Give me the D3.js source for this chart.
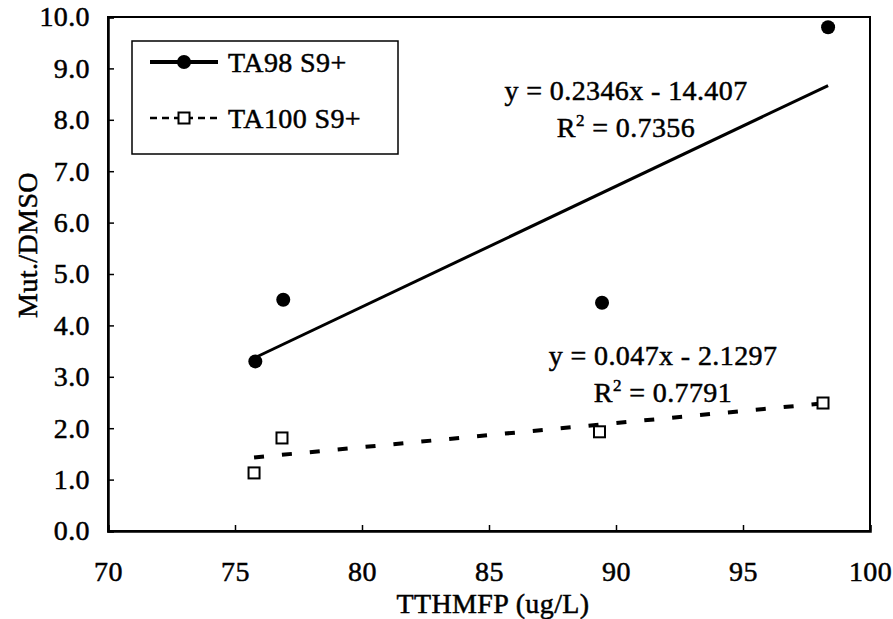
<!DOCTYPE html>
<html>
<head>
<meta charset="utf-8">
<script src="https://cdn.jsdelivr.net/npm/d3@7"></script>
<style>
  html, body { margin: 0; padding: 0; background: #fff; }
  svg text { font-family: "Liberation Serif", "Times New Roman", serif; fill: #000; stroke: #000; stroke-width: 0.5px; }
</style>
</head>
<body>
<svg id="chart" width="893" height="619"></svg>
<script>
// ---- data ----
const ta98X = [75.8, 76.9, 89.45, 98.35];
const ta98Y = [3.3, 4.5, 4.44, 9.8];
const ta100X = [75.75, 76.85, 89.35, 98.15];
const ta100Y = [1.13, 1.81, 1.93, 2.49];
const seriesNames = ["TA98 S9+", "TA100 S9+"];
const trendSlopes = [0.2346, 0.047];
const trendIntercepts = [-14.407, -2.1297];
const trendEquations = ["y = 0.2346x - 14.407", "y = 0.047x - 2.1297"];
const trendR2 = ["0.7356", "0.7791"];
const xTicks = [70, 75, 80, 85, 90, 95, 100];
const yTicks = [0, 1, 2, 3, 4, 5, 6, 7, 8, 9, 10];
const xTitle = "TTHMFP (ug/L)";
const yTitle = "Mut./DMSO";

// ---- layout ----
const svg = d3.select("#chart");
const L = 108, R = 870, T = 17, B = 531;
const x = d3.scaleLinear().domain([70, 100]).range([L, R]);
const y = d3.scaleLinear().domain([0, 10]).range([B, T]);
const FS = 28;
const LS = "0.4px";

// frame
svg.append("rect").attr("x", L).attr("y", T).attr("width", R - L).attr("height", B - T)
  .attr("fill", "none").attr("stroke", "#000").attr("stroke-width", 2);

// axes (inward ticks)
const xAxis = svg.append("g").attr("transform", `translate(0,${B})`)
  .call(d3.axisBottom(x).tickValues(xTicks).tickSize(-6).tickPadding(30).tickFormat(d3.format("d")));
const yAxis = svg.append("g").attr("transform", `translate(${L},0)`)
  .call(d3.axisLeft(y).tickValues(yTicks).tickSize(-6).tickPadding(18).tickFormat(d3.format(".1f")));
[xAxis, yAxis].forEach(g => {
  g.select(".domain").attr("stroke", "#000").attr("stroke-width", 2.5);
  g.selectAll(".tick line").attr("stroke", "#000").attr("stroke-width", 1.5);
  g.selectAll(".tick text").style("font-size", FS + "px").style("letter-spacing", LS);
});

// axis titles
svg.append("text").attr("x", 493).attr("y", 613).attr("text-anchor", "middle")
  .style("font-size", FS + "px").style("letter-spacing", LS).text(xTitle);
svg.append("text").attr("transform", "translate(37,245) rotate(-90)").attr("text-anchor", "middle")
  .style("font-size", FS + "px").style("letter-spacing", LS).text(yTitle);

// trend lines
const xs = [ta98X, ta100X];
const dashes = [null, "10,18"];
const widths = [3, 4];
xs.forEach((xv, i) => {
  const x0 = d3.min(xv), x1 = d3.max(xv);
  const f = v => trendSlopes[i] * v + trendIntercepts[i];
  svg.append("line")
    .attr("x1", x(x0)).attr("y1", y(f(x0))).attr("x2", x(x1)).attr("y2", y(f(x1)))
    .attr("stroke", "#000").attr("stroke-width", widths[i])
    .attr("stroke-dasharray", dashes[i]);
});

// markers
svg.append("g").selectAll("circle").data(d3.zip(ta98X, ta98Y)).join("circle")
  .attr("cx", d => x(d[0])).attr("cy", d => y(d[1])).attr("r", 7).attr("fill", "#000");
svg.append("g").selectAll("rect").data(d3.zip(ta100X, ta100Y)).join("rect")
  .attr("x", d => x(d[0]) - 5.5).attr("y", d => y(d[1]) - 5.5)
  .attr("width", 11).attr("height", 11).attr("fill", "#fff").attr("stroke", "#000").attr("stroke-width", 2);

// equations
const eqPos = [[626, 100, 137], [663, 365, 402]];
eqPos.forEach((p, i) => {
  svg.append("text").attr("x", p[0]).attr("y", p[1]).attr("text-anchor", "middle")
    .style("font-size", FS + "px").style("letter-spacing", LS).text(trendEquations[i]);
  const t = svg.append("text").attr("x", p[0]).attr("y", p[2]).attr("text-anchor", "middle")
    .style("font-size", FS + "px").style("letter-spacing", LS);
  t.append("tspan").text("R");
  t.append("tspan").attr("dy", -11).style("font-size", "17px").text("2");
  t.append("tspan").attr("dy", 11).text(" = " + trendR2[i]);
});

// legend
const lg = svg.append("g");
lg.append("rect").attr("x", 132).attr("y", 41).attr("width", 266).attr("height", 113)
  .attr("fill", "#fff").attr("stroke", "#000").attr("stroke-width", 1.5);
const ly = [62, 118];
seriesNames.forEach((name, i) => {
  lg.append("line").attr("x1", 150).attr("x2", 218).attr("y1", ly[i]).attr("y2", ly[i])
    .attr("stroke", "#000").attr("stroke-width", i === 0 ? 4 : 2.5)
    .attr("stroke-dasharray", i === 0 ? null : "7,5");
  if (i === 0) {
    lg.append("circle").attr("cx", 184).attr("cy", ly[i]).attr("r", 7).attr("fill", "#000");
  } else {
    lg.append("rect").attr("x", 178.5).attr("y", ly[i] - 5.5).attr("width", 11).attr("height", 11)
      .attr("fill", "#fff").attr("stroke", "#000").attr("stroke-width", 2);
  }
  lg.append("text").attr("x", 228).attr("y", ly[i] + 10)
    .style("font-size", FS + "px").style("letter-spacing", LS).text(name);
});
</script>
</body>
</html>
